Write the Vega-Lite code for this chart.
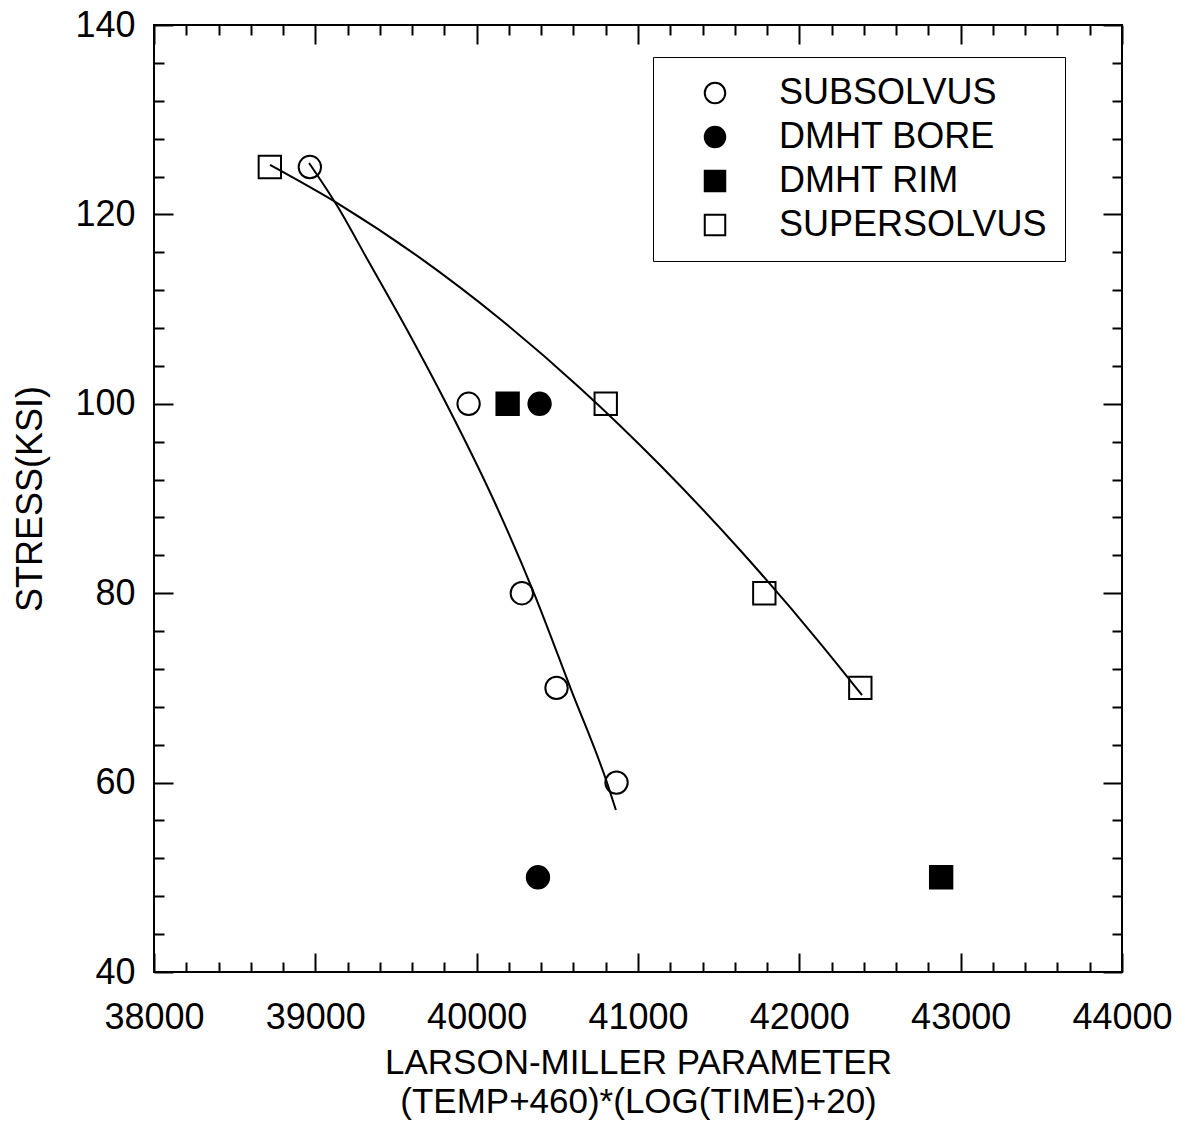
{
  "$schema": "https://vega.github.io/schema/vega-lite/v6.json",
  "autosize": "none",
  "width": 968,
  "height": 947,
  "padding": {"left": 154, "top": 25, "right": 62, "bottom": 171},
  "background": "white",
  "config": {
    "font": "Liberation Sans",
    "view": {"stroke": "black", "strokeWidth": 2},
    "axis": {"grid": false, "domain": false, "labelColor": "black", "titleColor": "black", "tickColor": "black", "tickWidth": 2}
  },
  "datasets": {
    "pts": [
      {"series": "SUBSOLVUS", "lmp": 38966, "stress": 125},
      {"series": "SUBSOLVUS", "lmp": 39950, "stress": 100},
      {"series": "SUBSOLVUS", "lmp": 40280, "stress": 80},
      {"series": "SUBSOLVUS", "lmp": 40495, "stress": 70},
      {"series": "SUBSOLVUS", "lmp": 40867, "stress": 60},
      {"series": "DMHT BORE", "lmp": 40390, "stress": 100},
      {"series": "DMHT BORE", "lmp": 40380, "stress": 50},
      {"series": "DMHT RIM", "lmp": 40192, "stress": 100},
      {"series": "DMHT RIM", "lmp": 42879, "stress": 50},
      {"series": "SUPERSOLVUS", "lmp": 38718, "stress": 125},
      {"series": "SUPERSOLVUS", "lmp": 40800, "stress": 100},
      {"series": "SUPERSOLVUS", "lmp": 41783, "stress": 80},
      {"series": "SUPERSOLVUS", "lmp": 42378, "stress": 70}
    ],
    "curves": [
      {"curve": "sub", "lmp": 38961, "stress": 125.43},
      {"curve": "sub", "lmp": 39140, "stress": 120.78},
      {"curve": "sub", "lmp": 39325, "stress": 115.18},
      {"curve": "sub", "lmp": 39569, "stress": 107.79},
      {"curve": "sub", "lmp": 39816, "stress": 99.87},
      {"curve": "sub", "lmp": 40105, "stress": 89.84},
      {"curve": "sub", "lmp": 40355, "stress": 80.02},
      {"curve": "sub", "lmp": 40584, "stress": 69.88},
      {"curve": "sub", "lmp": 40813, "stress": 59.74},
      {"curve": "sub", "lmp": 40863, "stress": 57.10},
      {"curve": "super", "lmp": 38719, "stress": 125.22},
      {"curve": "super", "lmp": 39153, "stress": 121.01},
      {"curve": "super", "lmp": 39649, "stress": 115.41},
      {"curve": "super", "lmp": 40145, "stress": 108.96},
      {"curve": "super", "lmp": 40640, "stress": 101.68},
      {"curve": "super", "lmp": 41136, "stress": 93.54},
      {"curve": "super", "lmp": 41632, "stress": 84.56},
      {"curve": "super", "lmp": 42128, "stress": 74.74},
      {"curve": "super", "lmp": 42388, "stress": 69.25}
    ]
  },
  "resolve": {"axis": {"x": "independent", "y": "independent"}},
  "layer": [
    {
      "data": {"name": "curves"},
      "mark": {"type": "line", "color": "black", "strokeWidth": 2, "interpolate": "monotone"},
      "encoding": {
        "x": {"field": "lmp", "type": "quantitative", "scale": {"domain": [38000, 44000], "nice": false, "zero": false},
              "axis": {"orient": "bottom", "values": [38000, 39000, 40000, 41000, 42000, 43000, 44000], "labels": false, "ticks": true, "tickSize": -19, "title": null}},
        "y": {"field": "stress", "type": "quantitative", "scale": {"domain": [40, 140], "nice": false, "zero": false},
              "axis": {"orient": "left", "values": [40, 60, 80, 100, 120, 140], "labels": false, "ticks": true, "tickSize": -19, "title": null}},
        "detail": {"field": "curve"}
      }
    },
    {
      "data": {"name": "pts"},
      "mark": {"type": "point", "opacity": 0},
      "encoding": {
        "x": {"field": "lmp", "type": "quantitative", "scale": {"domain": [38000, 44000], "nice": false, "zero": false},
              "axis": {"orient": "bottom", "values": [38200, 38400, 38600, 38800, 39200, 39400, 39600, 39800, 40200, 40400, 40600, 40800, 41200, 41400, 41600, 41800, 42200, 42400, 42600, 42800, 43200, 43400, 43600, 43800], "labels": false, "ticks": true, "tickSize": -10, "title": null}},
        "y": {"field": "stress", "type": "quantitative", "scale": {"domain": [40, 140], "nice": false, "zero": false},
              "axis": {"orient": "left", "values": [44, 48, 52, 56, 64, 68, 72, 76, 84, 88, 92, 96, 104, 108, 112, 116, 124, 128, 132, 136], "labels": false, "ticks": true, "tickSize": -10, "title": null}}
      }
    },
    {
      "data": {"name": "pts"},
      "mark": {"type": "point", "opacity": 0},
      "encoding": {
        "x": {"field": "lmp", "type": "quantitative", "scale": {"domain": [38000, 44000], "nice": false, "zero": false},
              "axis": {"orient": "top", "values": [38000, 39000, 40000, 41000, 42000, 43000, 44000], "labels": false, "ticks": true, "tickSize": -19, "title": null}},
        "y": {"field": "stress", "type": "quantitative", "scale": {"domain": [40, 140], "nice": false, "zero": false},
              "axis": {"orient": "right", "values": [40, 60, 80, 100, 120, 140], "labels": false, "ticks": true, "tickSize": -19, "title": null}}
      }
    },
    {
      "data": {"name": "pts"},
      "mark": {"type": "point", "opacity": 0},
      "encoding": {
        "x": {"field": "lmp", "type": "quantitative", "scale": {"domain": [38000, 44000], "nice": false, "zero": false},
              "axis": {"orient": "top", "values": [38200, 38400, 38600, 38800, 39200, 39400, 39600, 39800, 40200, 40400, 40600, 40800, 41200, 41400, 41600, 41800, 42200, 42400, 42600, 42800, 43200, 43400, 43600, 43800], "labels": false, "ticks": true, "tickSize": -10, "title": null}},
        "y": {"field": "stress", "type": "quantitative", "scale": {"domain": [40, 140], "nice": false, "zero": false},
              "axis": {"orient": "right", "values": [44, 48, 52, 56, 64, 68, 72, 76, 84, 88, 92, 96, 104, 108, 112, 116, 124, 128, 132, 136], "labels": false, "ticks": true, "tickSize": -10, "title": null}}
      }
    },
    {
      "data": {"name": "pts"},
      "mark": {"type": "point", "filled": true, "size": 500, "stroke": "black", "strokeWidth": 2, "opacity": 1},
      "encoding": {
        "x": {"field": "lmp", "type": "quantitative", "scale": {"domain": [38000, 44000], "nice": false, "zero": false},
              "axis": {"orient": "bottom", "values": [38000, 39000, 40000, 41000, 42000, 43000, 44000], "format": "d", "ticks": false, "labelFontSize": 36, "labelPadding": 28, "labelFlush": false,
                       "title": ["LARSON-MILLER PARAMETER", "(TEMP+460)*(LOG(TIME)+20)"], "titleFontSize": 35, "titleFontWeight": "normal", "titlePadding": 10, "titleLineHeight": 39}},
        "y": {"field": "stress", "type": "quantitative", "scale": {"domain": [40, 140], "nice": false, "zero": false},
              "axis": {"orient": "left", "values": [40, 60, 80, 100, 120, 140], "format": "d", "ticks": false, "labelFontSize": 36, "labelPadding": 19, "labelFlush": false,
                       "title": "STRESS(KSI)", "titleFontSize": 36, "titleFontWeight": "normal", "titlePadding": 25}},
        "shape": {"field": "series", "type": "nominal",
                  "scale": {"domain": ["SUBSOLVUS", "DMHT BORE", "DMHT RIM", "SUPERSOLVUS"], "range": ["circle", "circle", "square", "square"]},
                  "legend": {"title": null, "orient": "none", "legendX": 499, "legendY": 32, "strokeColor": "black", "fillColor": "white", "padding": 18,
                             "labelFontSize": 36, "labelColor": "black", "labelLimit": 500, "symbolSize": 420, "symbolStrokeColor": "black", "symbolStrokeWidth": 2,
                             "symbolOffset": 26, "labelOffset": 46, "rowPadding": 8}},
        "color": {"field": "series", "type": "nominal",
                  "scale": {"domain": ["SUBSOLVUS", "DMHT BORE", "DMHT RIM", "SUPERSOLVUS"], "range": ["transparent", "black", "black", "transparent"]},
                  "legend": {"title": null, "orient": "none", "legendX": 499, "legendY": 32, "strokeColor": "black", "fillColor": "white", "padding": 18,
                             "labelFontSize": 36, "labelColor": "black", "labelLimit": 500, "symbolSize": 420, "symbolStrokeColor": "black", "symbolStrokeWidth": 2,
                             "symbolOffset": 26, "labelOffset": 46, "rowPadding": 8}}
      }
    }
  ]
}
